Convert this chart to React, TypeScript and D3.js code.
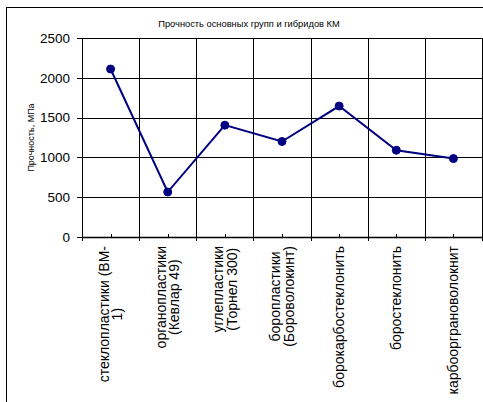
import React from "react";
import * as d3 from "d3";

const title = "Прочность основных групп и гибридов КМ";
const yAxisTitle = "Прочность, МПа";
const categoryLines: string[][] = [
  ["стеклопластики (ВМ-", "1)"],
  ["органопластики", "(Кевлар 49)"],
  ["углепластики", "(Торнел 300)"],
  ["боропластики", "(Бороволокинт)"],
  ["борокарбостеклонить"],
  ["боростеклонить"],
  ["карбоорграноволокнит"],
];
const strengthValues = [2110, 565, 1405, 1200, 1645, 1090, 985];
const yTicks = [0, 500, 1000, 1500, 2000, 2500];

const W = 483;
const H = 402;
const plot = { left: 82, right: 482, top: 38, bottom: 237 };
const FONT = "'Liberation Sans', Arial, sans-serif";
const LABEL_SIZE = 14;

function measure(text: string, size: number): number {
  const c = document.createElement("canvas");
  const ctx = c.getContext("2d");
  if (!ctx) return text.length * size * 0.5;
  ctx.font = `${size}px 'Liberation Sans', Arial, sans-serif`;
  return ctx.measureText(text).width;
}

export default function App() {
  const idx = d3.range(categoryLines.length);
  const xBand = d3
    .scaleBand<number>()
    .domain(idx)
    .range([plot.left, plot.right])
    .padding(0);
  const y = d3.scaleLinear().domain([0, 2500]).range([plot.bottom, plot.top]);
  const cx = (i: number) => (xBand(i) as number) + xBand.bandwidth() / 2;
  const line = d3
    .line<number>()
    .x((_, i) => cx(i))
    .y((d) => y(d));
  const boundaries = d3.range(categoryLines.length + 1).map((i) => plot.left + i * xBand.bandwidth());
  const navy = "#000080";
  const labelTop = 246;
  const lineGap = 13.5;

  return (
    <svg
      width={W}
      height={H}
      style={{ position: "absolute", left: 0, top: 0, background: "#fff" }}
      fontFamily={FONT}
    >
      <rect x={0} y={0} width={W} height={H} fill="#fff" />
      <rect x={6.5} y={7.5} width={W + 10} height={H + 10} fill="none" stroke="#000" strokeWidth={1} />
      <text x={249} y={27} fontSize={9.3} textAnchor="middle" fill="#000">
        {title}
      </text>
      {yTicks.map((t) => (
        <line key={"h" + t} x1={plot.left} x2={plot.right} y1={Math.round(y(t)) + 0.5} y2={Math.round(y(t)) + 0.5} stroke="#000" strokeWidth={1} />
      ))}
      {boundaries.map((b, i) => (
        <line key={"v" + i} x1={Math.round(b) + 0.5} x2={Math.round(b) + 0.5} y1={plot.top} y2={plot.bottom + 4} stroke="#000" strokeWidth={1} />
      ))}
      {idx.map((i) => (
        <line key={"m" + i} x1={Math.round(cx(i)) + 0.5} x2={Math.round(cx(i)) + 0.5} y1={plot.bottom - 3} y2={plot.bottom} stroke="#000" strokeWidth={1} />
      ))}
      <line x1={plot.left + 0.5} x2={plot.left + 0.5} y1={plot.top} y2={plot.bottom} stroke="#000" strokeWidth={1} />
      <line x1={plot.left} x2={plot.right} y1={plot.bottom + 0.5} y2={plot.bottom + 0.5} stroke="#000" strokeWidth={1.5} />
      {yTicks.map((t) => (
        <g key={"yt" + t}>
          <line x1={plot.left - 5} x2={plot.left} y1={Math.round(y(t)) + 0.5} y2={Math.round(y(t)) + 0.5} stroke="#000" />
          <text x={plot.left - 12} y={y(t) + 4.7} fontSize={13.5} textAnchor="end" fill="#000">
            {t}
          </text>
        </g>
      ))}
      <text
        transform={`translate(33.5, ${(plot.top + plot.bottom) / 2}) rotate(-90)`}
        fontSize={9}
        textAnchor="middle"
        fill="#000"
      >
        {yAxisTitle}
      </text>
      {categoryLines.map((lines, i) => {
        const widths = lines.map((l) => measure(l, LABEL_SIZE));
        const blockW = Math.max(...widths);
        const yc = labelTop + blockW / 2;
        return lines.map((l, j) => {
          const lx = cx(i) + (j - (lines.length - 1) / 2) * lineGap + 5;
          return (
            <text
              key={`c${i}-${j}`}
              transform={`translate(${lx}, ${yc}) rotate(-90)`}
              fontSize={LABEL_SIZE}
              textAnchor="middle"
              fill="#000"
            >
              {l}
            </text>
          );
        });
      })}
      <path d={line(strengthValues) || ""} fill="none" stroke={navy} strokeWidth={2} />
      {strengthValues.map((v, i) => (
        <circle key={"p" + i} cx={cx(i)} cy={y(v)} r={4} fill={navy} stroke={navy} />
      ))}
    </svg>
  );
}
